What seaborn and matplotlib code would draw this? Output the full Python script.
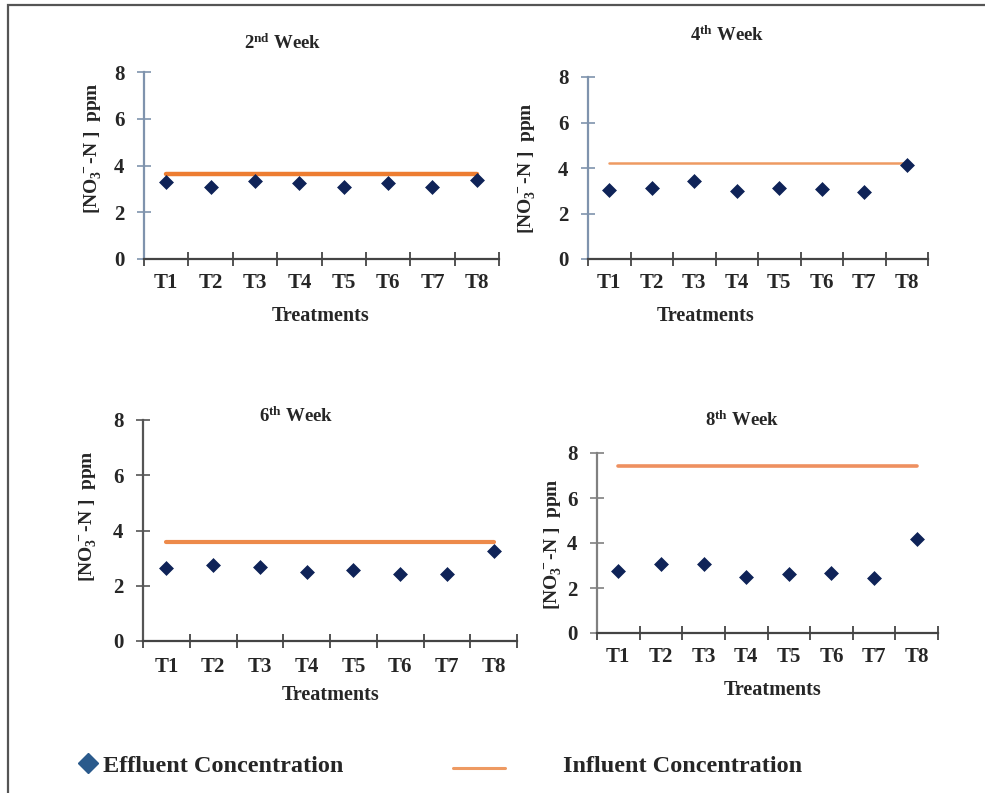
import matplotlib
matplotlib.use("Agg")
import matplotlib.pyplot as plt
import seaborn as sns
import pandas as pd
from matplotlib.patches import Rectangle
from matplotlib.lines import Line2D

# ---------------- data ----------------
treatments = ["T1", "T2", "T3", "T4", "T5", "T6", "T7", "T8"]
weeks = ["2", "4", "6", "8"]
week_suffix = ["nd", "th", "th", "th"]

effluent_w2 = [3.28, 3.10, 3.34, 3.24, 3.10, 3.24, 3.10, 3.38]
effluent_w4 = [3.05, 3.12, 3.44, 3.00, 3.12, 3.08, 2.95, 4.12]
effluent_w6 = [2.63, 2.75, 2.68, 2.51, 2.57, 2.44, 2.44, 3.26]
effluent_w8 = [2.77, 3.05, 3.05, 2.50, 2.62, 2.65, 2.43, 4.20]

influent_w2 = 3.62
influent_w4 = 4.22
influent_w6 = 3.58
influent_w8 = 7.41

y_ticks = [0, 2, 4, 6, 8]

effluents = [effluent_w2, effluent_w4, effluent_w6, effluent_w8]
influents = [influent_w2, influent_w4, influent_w6, influent_w8]

# ---------------- style ----------------
sns.set_style("white")
plt.rcParams["font.family"] = ["Liberation Serif", "DejaVu Serif"]
plt.rcParams["font.weight"] = "bold"
plt.rcParams["mathtext.fontset"] = "custom"
plt.rcParams["mathtext.rm"] = "Liberation Serif:bold"
plt.rcParams["mathtext.bf"] = "Liberation Serif:bold"
plt.rcParams["mathtext.it"] = "Liberation Serif:bold"
plt.rcParams["mathtext.default"] = "rm"

W, H = 985, 793
fig = plt.figure(figsize=(W / 100, H / 100), dpi=100)
fig.patch.set_facecolor("white")

def fx(px):
    return px / W

def fy(py):
    return 1 - py / H

# frame (top and left edges visible)
fig.add_artist(Rectangle((fx(8), fy(H + 20)), fx(W + 40), fy(5) - fy(H + 20),
                         transform=fig.transFigure, fill=False,
                         edgecolor="#555555", linewidth=1.6))

# axes boxes in pixels: (left, top, right, bottom)
boxes = [(144, 72, 499, 259), (588, 77, 928, 259),
         (143, 420, 517, 641), (597, 453, 938, 633)]
title_pos = [(283, 43), (727, 35), (296, 416), (742, 420)]
xlabel_pos = [(321, 316), (706, 316), (331, 695), (773, 690)]
ylabel_pos = [(93, 148), (527, 168), (88, 516), (553, 544)]
tick_label_y = [283, 283, 667, 657]
yspine_colors = ["#7f93ad", "#7f93ad", "#555555", "#808080"]
line_widths = [3.2, 1.8, 3.0, 2.6]
orange_cols = ["#ED7D31", "#EE9A62", "#ED8A4A", "#EE9060"]
marker_col = "#0f2358"

for i in range(4):
    l, t, r, b = boxes[i]
    ax = fig.add_axes([fx(l), fy(b), fx(r - l), fy(t) - fy(b)])
    df = pd.DataFrame({"Treatment": treatments, "Effluent": effluents[i],
                       "Influent": [influents[i]] * len(treatments)})
    df["x"] = range(len(treatments))
    sns.lineplot(data=df, x="x", y="Influent", ax=ax, color=orange_cols[i],
                 linewidth=line_widths[i], legend=False)
    sns.scatterplot(data=df, x="x", y="Effluent", ax=ax, marker="D", s=50,
                    color=marker_col, edgecolor=marker_col, linewidth=0.5,
                    legend=False, zorder=5)
    ax.set_xlim(-0.5, len(treatments) - 0.5)
    ax.set_ylim(0, 8)
    ax.set_yticks(y_ticks)
    ax.set_yticklabels([str(v) for v in y_ticks], fontsize=15, fontweight="bold")
    ax.set_xticks([k - 0.5 for k in range(len(treatments) + 1)])
    ax.set_xticklabels([])
    ax.tick_params(axis="x", bottom=True, direction="inout", length=10, width=1.3,
                   color="#444444")
    ax.tick_params(axis="y", left=True, direction="inout", length=10, width=1.2,
                   color=yspine_colors[i], pad=9)
    for k, tr in enumerate(treatments):
        x_disp = ax.transData.transform((k, 0))[0]
        fig.text(x_disp / W, fy(tick_label_y[i]), tr, ha="center", va="center",
                 fontsize=15, fontweight="bold")
    for s in ["top", "right"]:
        ax.spines[s].set_visible(False)
    ax.spines["left"].set_color(yspine_colors[i])
    ax.spines["left"].set_linewidth(1.6)
    ax.spines["bottom"].set_color("#444444")
    ax.spines["bottom"].set_linewidth(1.6)
    ax.set_xlabel("")
    ax.set_ylabel("")
    ax.set_facecolor("white")
    ax.grid(False)

    fig.text(fx(title_pos[i][0]), fy(title_pos[i][1]),
             weeks[i] + r"$^{\mathrm{" + week_suffix[i] + r"}}$ Week",
             ha="center", va="center", fontsize=13.5, fontweight="bold")
    fig.text(fx(xlabel_pos[i][0]), fy(xlabel_pos[i][1]), "Treatments",
             ha="center", va="center", fontsize=14.5, fontweight="bold")
    fig.text(fx(ylabel_pos[i][0]), fy(ylabel_pos[i][1]),
             r"[NO$_3^{\,-}$-N ]  ppm", rotation=90,
             ha="center", va="center", fontsize=14, fontweight="bold")

# ---------------- legend ----------------
fig.add_artist(Line2D([fx(88)], [fy(763)], marker="D", markersize=10,
                      color="#2a5a8c", linestyle="none", transform=fig.transFigure))
fig.text(fx(103), fy(766), "Effluent Concentration", ha="left", va="center",
         fontsize=17.5, fontweight="bold")
fig.add_artist(Line2D([fx(453), fx(505)], [fy(768), fy(768)], color="#EE9A62",
                      linewidth=2.2, transform=fig.transFigure))
fig.text(fx(563), fy(766), "Influent Concentration", ha="left", va="center",
         fontsize=17.5, fontweight="bold")

fig.savefig("out.png", dpi=100)
